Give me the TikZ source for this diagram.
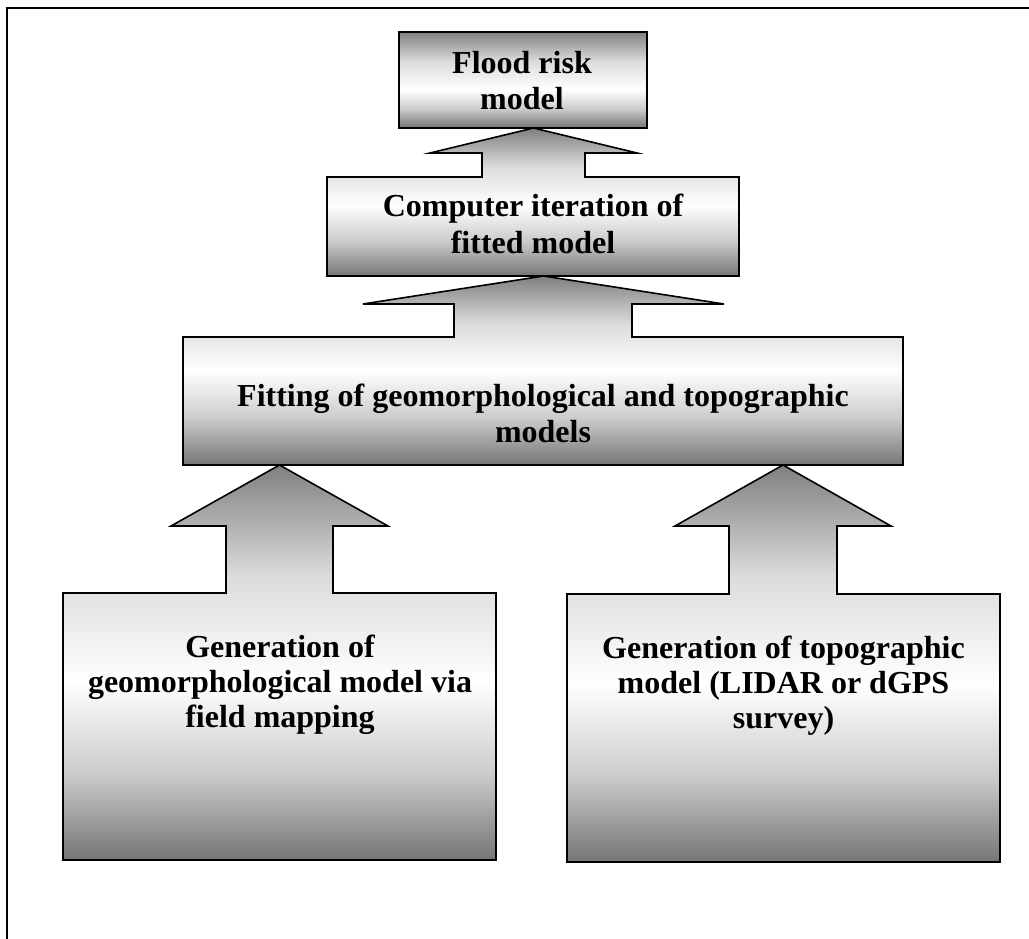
\documentclass[tikz,border=0pt]{standalone}
\usepackage{fontspec}
\setmainfont{Liberation Serif}
\definecolor{gTop}{gray}{0.50}
\definecolor{gBot}{gray}{0.46}
\definecolor{gUp}{gray}{0.86}
\definecolor{gLo}{gray}{0.80}
\pgfdeclareverticalshading{shFlood}{100bp}{color(0bp)=(gBot); color(25bp)=(gBot); color(35bp)=(gLo); color(45bp)=(white); color(60bp)=(gUp); color(75bp)=(gTop); color(100bp)=(gTop)}
\pgfdeclareverticalshading{shComp}{100bp}{color(0bp)=(gBot); color(25bp)=(gBot); color(37bp)=(gLo); color(49bp)=(white); color(62bp)=(gUp); color(75bp)=(gTop); color(100bp)=(gTop)}
\pgfdeclareverticalshading{shFit}{100bp}{color(0bp)=(gBot); color(25bp)=(gBot); color(37.5bp)=(gLo); color(50bp)=(white); color(62.5bp)=(gUp); color(75bp)=(gTop); color(100bp)=(gTop)}
\pgfdeclareverticalshading{shGen}{100bp}{color(0bp)=(gBot); color(25bp)=(gBot); color(36bp)=(gLo); color(47.5bp)=(white); color(61bp)=(gUp); color(75bp)=(gTop); color(100bp)=(gTop)}
\tikzset{
  shapebox/.style={draw=black, line width=1.6pt, line join=miter},
  lbl/.style={font=\bfseries\fontsize{32}{36.5}\selectfont, align=center, anchor=base, inner sep=0pt, text=black},
  frameline/.style={draw=black, line width=2.2pt}
}
\begin{document}
\begin{tikzpicture}[x=1pt,y=-1pt]
\useasboundingbox (0,0) rectangle (1029,939);
% frame (top and left)
\coordinate (fA) at (7,939);
\coordinate (fB) at (7,8);
\coordinate (fC) at (1029,8);
\draw[frameline] (fA) -- (fB) -- (fC);

% Flood risk model
\path[shapebox, shading=shFlood] (399,32) rectangle (647,128);
\node[lbl] (flood) at (522,110) {Flood risk\\model};

% Computer iteration (box with up arrow)
\path[shapebox, shading=shComp] (327,177) -- (482,177) -- (482,153) -- (430,153) -- (533.5,128)
  -- (637,153) -- (585,153) -- (585,177) -- (739,177) -- (739,276) -- (327,276) -- cycle;
\node[lbl] (comp) at (533,253) {Computer iteration of\\fitted model};

% Fitting (box with up arrow)
\path[shapebox, shading=shFit] (183,337) -- (454,337) -- (454,304) -- (363,304) -- (543.5,276)
  -- (724,304) -- (632,304) -- (632,337) -- (903,337) -- (903,465) -- (183,465) -- cycle;
\node[lbl, font=\bfseries\fontsize{32}{36}\selectfont] (fit) at (543,442) {Fitting of geomorphological and topographic\\models};

% Generation of geomorphological model
\path[shapebox, shading=shGen] (63,593) -- (226,593) -- (226,526) -- (171,526) -- (279.5,465)
  -- (388,526) -- (333,526) -- (333,593) -- (496,593) -- (496,860) -- (63,860) -- cycle;
\node[lbl, font=\bfseries\fontsize{32}{34.6}\selectfont] (geo) at (280,727) {Generation of\\geomorphological model via\\field mapping};

% Generation of topographic model
\path[shapebox, shading=shGen] (567,594) -- (729,594) -- (729,526) -- (675,526) -- (783,465)
  -- (891,526) -- (837,526) -- (837,594) -- (1000,594) -- (1000,862) -- (567,862) -- cycle;
\node[lbl, font=\bfseries\fontsize{32}{34.6}\selectfont] (topo) at (783.5,728) {Generation of topographic\\model (LIDAR or dGPS\\survey)};
\end{tikzpicture}
\end{document}
